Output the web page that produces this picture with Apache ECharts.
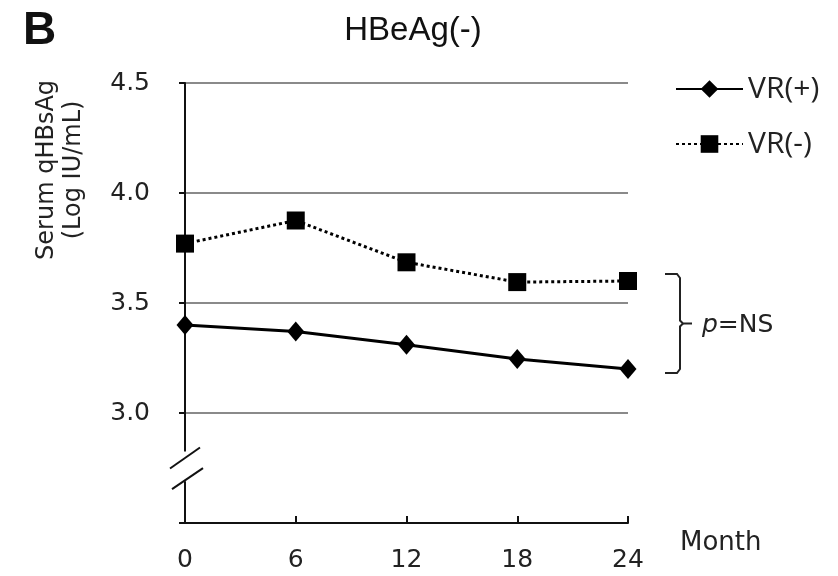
<!DOCTYPE html>
<html><head><meta charset="utf-8">
<script src="https://cdn.jsdelivr.net/npm/echarts@6/dist/echarts.min.js"></script>
<style>html,body{margin:0;padding:0;background:#fff}#c{width:838px;height:576px}</style>
</head><body><div id="c"></div>
<script>
const months = [0, 6, 12, 18, 24];
const vrPos = [3.40, 3.37, 3.31, 3.245, 3.20];
const vrNeg = [3.77, 3.875, 3.685, 3.595, 3.60];
const seriesNames = ['VR(+)', 'VR(-)'];
const yTicks = [3.0, 3.5, 4.0, 4.5];
const yName = 'Serum qHBsAg\n(Log IU/mL)';

const chart = echarts.init(document.getElementById('c'));
const font = 'Liberation Sans, Arial, sans-serif';
const wide = 'DejaVu Sans, sans-serif';
const legendText = {fontFamily: 'Open Sans, sans-serif', fontSize: 30, color: '#222', lineHeight: 18};
const option = {
  animation: false,
  backgroundColor: '#fff',
  title: [
    {text: 'HBeAg(-)', left: 408, top: 9, textAlign: 'center',
     textStyle: {fontFamily: font, fontSize: 33, fontWeight: 'normal', color: '#111'}},
    {text: 'B', left: 18, top: 3,
     textStyle: {fontFamily: font, fontSize: 46, fontWeight: 'bold', color: '#111'}}
  ],
  legend: [
    {orient: 'vertical', left: 670, top: 69, itemWidth: 67, itemHeight: 22,
     textStyle: legendText, data: [seriesNames[0]]},
    {orient: 'vertical', left: 670, top: 124, itemWidth: 67, itemHeight: 22,
     textStyle: legendText, data: [seriesNames[1]]}
  ],
  grid: {left: 185, right: 210, top: 83, bottom: 53},
  xAxis: {
    type: 'value', min: 0, max: 24, interval: 6,
    name: 'Month', nameLocation: 'end', nameGap: 0,
    nameTextStyle: {fontFamily: wide, fontSize: 26, color: '#222', align: 'left', verticalAlign: 'top', padding: [7, 0, 0, 52]},
    axisLine: {lineStyle: {color: '#111', width: 2}},
    axisTick: {inside: true, length: 7, lineStyle: {color: '#111', width: 2}},
    axisLabel: {fontFamily: wide, fontSize: 25, color: '#222', margin: 25},
    splitLine: {show: false}
  },
  yAxis: {
    type: 'value', min: 2.5, max: 4.5, interval: 0.5,
    axisLine: {show: true, lineStyle: {color: '#111', width: 2}},
    axisTick: {show: true, length: 6, lineStyle: {color: '#111', width: 2}},
    axisLabel: {fontFamily: wide, fontSize: 25, color: '#222', margin: 35,
      formatter: v => yTicks.some(t => Math.abs(t - v) < 1e-9) ? v.toFixed(1) : ''},
    splitLine: {show: true, showMinLine: false, lineStyle: {color: '#8a8a8a', width: 2}}
  },
  series: [
    {name: seriesNames[0], type: 'line', data: months.map((m, i) => [m, vrPos[i]]),
     symbol: 'diamond', symbolSize: [17, 20], color: '#000',
     lineStyle: {color: '#000', width: 3}, itemStyle: {color: '#000'}, z: 3},
    {name: seriesNames[1], type: 'line', data: months.map((m, i) => [m, vrNeg[i]]),
     symbol: 'rect', symbolSize: 18, color: '#000',
     lineStyle: {color: '#000', width: 3, type: [3, 3]}, itemStyle: {color: '#000'}, z: 3}
  ]
};
chart.setOption(option);

// decorations: axis title, axis break and significance bracket
const px = (x, y) => chart.convertToPixel({gridIndex: 0}, [x, y]);
const ax = px(0, 3.0)[0];
const gTop = px(0, 2.825)[1];
const gBot = px(0, 2.69)[1];
const bTop = px(24, vrNeg[4])[1] - 7;
const bBot = px(24, vrPos[4])[1] + 4;
const bMid = (bTop + bBot) / 2;
const bx = px(24, 3)[0] + 52;
const nameY = px(0, 4.105)[1];
chart.setOption({
  graphic: [
    {type: 'text', x: 60, y: nameY, rotation: Math.PI / 2,
     style: {text: yName, align: 'center', verticalAlign: 'middle', fill: '#222', font: '24px ' + wide, lineHeight: 27}, z: 101},
    {type: 'rect', shape: {x: ax - 4, y: gTop, width: 8, height: gBot - gTop}, style: {fill: '#fff'}, z: 100},
    {type: 'line', shape: {x1: ax - 15, y1: gTop + 17, x2: ax + 15, y2: gTop - 4}, style: {stroke: '#111', lineWidth: 2}, z: 101},
    {type: 'line', shape: {x1: ax - 13, y1: gBot + 8, x2: ax + 18, y2: gBot - 13}, style: {stroke: '#111', lineWidth: 2}, z: 101},
    {type: 'polyline', shape: {points: [[bx - 15, bTop], [bx - 3, bTop], [bx, bTop + 4], [bx, bMid - 3], [bx + 3, bMid], [bx + 12, bMid]]}, style: {stroke: '#222', lineWidth: 2, fill: null}, z: 101},
    {type: 'polyline', shape: {points: [[bx + 3, bMid], [bx, bMid + 3], [bx, bBot - 4], [bx - 3, bBot], [bx - 15, bBot]]}, style: {stroke: '#222', lineWidth: 2, fill: null}, z: 101},
    {type: 'text', x: bx + 22, y: bMid + 2, style: {text: '{i|p}=NS', verticalAlign: 'middle', fill: '#222', font: '25px ' + wide,
      rich: {i: {fontStyle: 'italic', fontSize: 25, fontFamily: wide, fill: '#222'}}}, z: 101}
  ]
});
</script>
</body></html>
